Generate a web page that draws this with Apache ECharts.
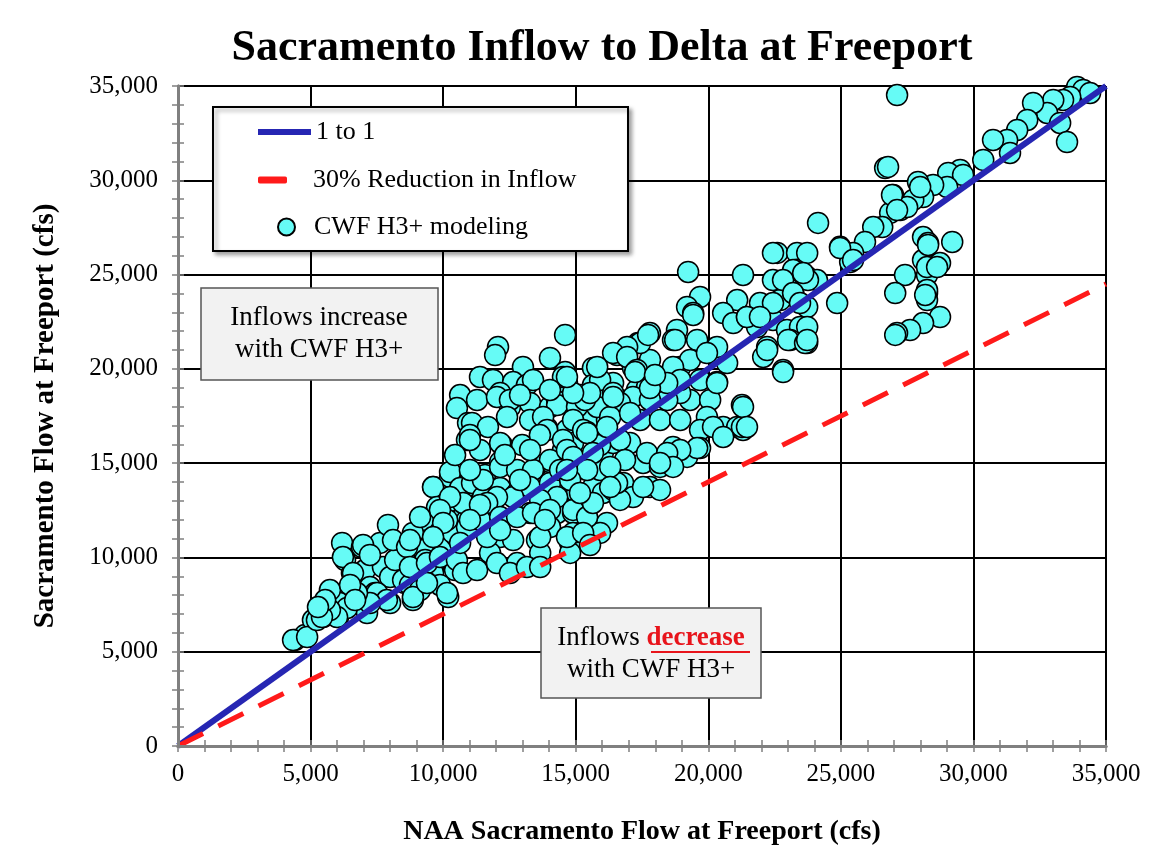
<!DOCTYPE html>
<html>
<head>
<meta charset="utf-8">
<title>Sacramento Inflow to Delta at Freeport</title>
<script src="https://cdn.jsdelivr.net/npm/echarts@6/dist/echarts.min.js"></script>
<style>
    html, body { margin: 0; padding: 0; background: #fff; }
    #chart { width: 1151px; height: 858px; }
</style>
</head>
<body>
<div id="chart"></div>
<script>
// reference lines (cfs)
const oneToOne = [[0, 0], [35000, 35000]];
const reduction30 = [[0, 0], [35000, 24500]];

// CWF H3+ modeling points: [NAA flow, H3+ flow] in cfs, grouped by area of the plot
const lowerLeftPts = [
    [4410,5620],[4790,5890],[5090,6680],[5470,6840],[5730,7050],[6040,6840],[6110,7580],[6380,7320],
    [6190,10770],[6300,9860],[6560,9170],[6940,10550],[7050,9330],[6790,8270],[7240,8430],[7430,8110],
    [7620,10770],[7730,9490],[8000,8960],[7920,11720],[8450,10660],[8830,10240],[8870,10920],[8680,9710],
    [8560,8640],[8000,7580],[8870,7900],[9390,11300],[9510,10390],[9130,9330],[9620,9170],[10000,11610],
    [10150,11830],[9770,12520],[9620,13740],[10260,14270],[10750,13580],[10450,9490],[10190,7900],
    [10520,12890],[10150,12890],[10000,10550],[10750,12140],[10520,11080],
    [10640,18610],[10520,17920],[10940,17130],[10900,16230],[4340,5620],[4870,5780],[5240,6680],
    [6000,6840],[7130,7050],[7510,8110],[8490,8800],[9240,10390],[10150,11610],[10450,9330],[9390,8640],
    [8860,7740],[7880,7740],[7240,7580],[6750,8110],[5730,7210],[5430,6840],[6980,10660],[6220,10020],[6600,9170],
    [5730,8270],[6490,8540],[8190,9860],[8750,8540],[7240,10130],[5550,7740],[6680,7740],[9130,8270],
    [9880,8540],[9320,9860],[5280,7370],[8110,10920]
];

const centerPts = [
    [14600,21800],[12070,21160],[11960,20730],[14030,20580],[13010,20100],[11390,19570],[11880,19410],
    [12640,19300],[13160,19140],[11280,18350],[12150,18720],[12520,17980],[13280,18190],[11090,17130],
    [11690,16920],[13280,17290],[14030,17980],[14300,18350],[14670,19250],[14600,19830],[15650,20050],
    [15650,19140],[15160,18610],[14900,17920],[16030,18880],[16410,19250],[16670,18350],[17310,18880],
    [17160,20050],[17350,21370],[16560,20730],[15540,17290],[16180,17290],[15430,16650],[14670,16760],
    [13920,16860],[11010,16490],[11390,15700],[12220,15960],[12980,15960],[12150,15060],[11580,14370],
    [10260,14530],[9620,13730],[10640,13680],[11090,13950],[11500,13200],[12150,13680],[12790,13420],
    [13540,14900],[14030,15060],[14520,15700],[14900,16070],[15430,15010],[16030,15590],[16410,16070],
    [17050,16070],[16300,14640],[16790,13950],[17160,13200],[17540,15010],[15650,13730],[15090,13420],
    [14300,13050],[13770,12670],[13280,12360],[14300,12360],[14900,12360],[15430,12670],[16030,13420],
    [16180,11830],[15430,11450],[14790,10770],[14790,10240],[14030,11610],[13540,10920],[13660,10240],
    [12790,9700],[12150,11080],[11500,11830],[11880,12520],[10900,11990],[10370,11300],[10150,11990],
    [9770,12670],[9240,11990],[8860,11300],[8640,10550],[8750,9490],[9390,9700],[9880,10020],[10520,9860],
    [10750,9170],[11280,9330],[11770,10240],[12030,9700],[12520,9170],[13160,9490],[13660,9490],
    [10150,8110],[8860,7900],[9390,8640],[14900,11300],[15920,11300],[16410,13580],[16670,13050]
];

const centerExtraPts = [
    [13390,19410],[14520,19570],[12030,18510],[12520,18350],[14300,18080],[15050,17980],[15810,17980],
    [12410,17450],[13770,17450],[13920,16760],[14900,17290],[15280,16760],[14520,16230],[11010,16230],
    [12150,16070],[14030,15170],[14670,15700],[14900,15330],[15430,14800],[12150,14800],[11500,14110],
    [12790,14640],[13390,14640],[13280,13730],[14030,13950],[15050,13420],[14300,13200],[13660,13050],
    [12640,13200],[12030,13200],[11660,12890],[10750,12890],[10260,13200],[9880,12520],[9130,12140],
    [10000,11830],[10900,11610],[11390,11990],[12150,12140],[12790,12140],[13390,12360],[14030,12520],
    [14900,12520],[15430,12140],[15650,12890],[8750,10920],[9620,11080],[10640,10770],[11660,11080],
    [12640,10920],[13660,11080],[14670,11080],[15280,11300],
    [11390,12780],[12900,14110],[13840,11990],[12330,15430],[10450,15430],[13650,16490],[15920,14640],
    [16670,16230],[15540,10660],[11010,14640],[12150,11450],[14410,14640],[13280,15700],[11010,11990],
    [16860,15170],[17430,17290],[15350,18350],[14030,18880],[12900,18610],[15920,15960],[18180,17290],
    [18940,17290],[19310,18350],[19690,19410],[17800,20470]
];

const upperMidPts = [
    [24140,27740],[24970,26470],[25460,25880],[22600,26150],[23350,26150],[23350,25250],[19240,25140],
    [21310,24980],[22440,24710],[22970,24340],[23730,24870],[24100,24710],[19690,23810],[21090,23650],
    [21950,23490],[22710,23650],[23200,24020],[23730,23280],[24860,23490],[19200,23280],[19430,22960],
    [20560,22960],[20940,22430],[21460,22750],[21840,22220],[22440,22590],[22970,22060],[23460,22220],
    [23730,21370],[23090,21530],[22220,21160],[22070,20630],[22820,19940],[20710,20310],[20260,21110],
    [20070,20840],[19580,21530],[18820,22060],[18670,21530],[17800,21900],[17430,21370],[16940,21160],
    [16410,20840],[16940,20630],[17310,19940],[18070,19570],[18940,20100],[19310,20470],[18560,19250],
    [18940,18720],[18450,18350],[17690,19040],[17160,18510],[16670,18190],[16300,17450],[17050,17660],
    [17800,18350],[15920,19410],[16410,18720],[20330,19300],[20070,18350],[19950,17450],[19690,16760],
    [19690,15800],[19200,15330],[18560,15330],[18180,14800],[17690,15540],[18670,15860],[20560,16920],
    [21090,16920],[21310,16760],[21270,18080],[16560,13950],[17800,13730],[18180,13580]
];

const upperMidExtraPts = [
    [22440,26140],[19430,22860],[18750,21530],[17730,21800],[20330,21160],[19950,20840],[20330,19250],
    [20180,16920],[21270,16920],[20560,16390],[19580,15800],[18940,15700],[18450,15540],[18670,14800],
    [18180,15010],[17540,13730],[18670,20100],[18940,19410],[18450,19250],[17800,18980],[16410,18510],
    [15540,18720],[14900,18720],[14670,19570],[16180,16920],[15430,16600],[15650,15540],[16300,14800],
    [15430,14640],[14790,14110],[16300,13730],[15160,13420],[14670,14640],[15810,20100],[17240,19830],
    [17990,19670],[21310,17980],[21460,16920],[22820,19830],[23200,25240],[23760,24710],[22820,24710],
    [23200,24020],[22440,23490],[23010,21530],[23650,21370],[22220,21000],[21460,22750],[21950,22750]
];

const upperRightPts = [
    [27120,34520],[33910,34950],[34140,34790],[34400,34630],[33650,34420],[33380,34260],[33010,34260],
    [32780,33570],[33270,33040],[33530,32030],[32250,34100],[32030,33200],[31650,32670],[31270,32140],
    [31380,31450],[30740,32140],[30370,31080],[29500,30550],[29050,30390],[29610,30280],[26670,30650],
    [26780,30710],[29010,29640],[28480,29750],[27910,29910],[28100,29110],[27730,28960],[26970,29220],
    [26860,28270],[27240,28420],[27500,28580],[26560,27520],[26220,27520],[25910,26730],[25460,26150],
    [25350,25670],[24970,26410],[28100,26990],[28290,26670],[29200,26730],[28100,25770],[28560,25510],
    [28740,25610],[27420,24980],[28250,24980],[28250,24020],[27050,24020],[28250,23650],[28740,22750],
    [28100,22430],[27610,22060],[27120,21900],[23460,23490],[23730,22220],[23730,21530],[23730,26150],
    [23580,25080],[25460,25770],[26930,29220],[27990,29640],[27120,28420],[28290,26570],[28250,25400],
    [28630,25400],[28250,24180],[28180,23920],[27050,21800]
];

const modelPts = [].concat(lowerLeftPts, centerPts, centerExtraPts, upperMidPts, upperMidExtraPts, upperRightPts);

const serif = "'Liberation Serif', 'Times New Roman', serif";
const gray = '#808080';
const fmt = v => v.toLocaleString('en-US');
const plotBox = { left: 178, right: 45, top: 86, bottom: 112 };

function baseAxis(extra) {
    return Object.assign({
        type: 'value',
        gridIndex: 0,
        min: 0,
        max: 35000,
        interval: 5000,
        axisLine: { show: true, lineStyle: { color: gray, width: 3 } },
        axisTick: { show: true, length: 6, lineStyle: { color: gray, width: 1.5 } },
        minorTick: { show: true, splitNumber: 5, length: 6, lineStyle: { color: gray, width: 1.5 } },
        splitLine: { show: true, lineStyle: { color: '#000', width: 2 } },
        axisLabel: { color: '#000', fontFamily: serif, fontSize: 25, formatter: fmt }
    }, extra);
}

// copy of the axes in a twin grid, only for the inward half of the crossing ticks
function tickOverlay(pos) {
    return {
        type: 'value', gridIndex: 1, min: 0, max: 35000, interval: 5000, position: pos, z: 4,
        axisLine: { show: true, onZero: false, lineStyle: { color: gray, width: 3 } },
        axisTick: { show: true, inside: true, length: 6, lineStyle: { color: gray, width: 1.5 } },
        minorTick: { show: true, splitNumber: 5, length: 6, lineStyle: { color: gray, width: 1.5 } },
        splitLine: { show: false },
        axisLabel: { show: false }
    };
}

let chart = echarts.init(document.getElementById('chart'));

let option = {
    animation: false,
    backgroundColor: '#fff',
    title: {
        text: 'Sacramento Inflow to Delta at Freeport',
        left: 597,
        textAlign: 'center',
        top: 22,
        textStyle: { fontFamily: serif, fontWeight: 'bold', fontSize: 44, color: '#000' }
    },
    grid: [
        Object.assign({}, plotBox),
        Object.assign({}, plotBox)
    ],
    xAxis: [
        baseAxis({
            position: 'bottom',
            name: 'NAA Sacramento Flow at Freeport (cfs)',
            nameLocation: 'middle',
            nameGap: 72,
            nameTextStyle: { fontFamily: serif, fontWeight: 'bold', fontSize: 28, color: '#000' },
            axisLabel: { color: '#000', fontFamily: serif, fontSize: 25, margin: 16, formatter: fmt }
        }),
        tickOverlay('bottom')
    ],
    yAxis: [
        baseAxis({
            position: 'left',
            name: 'Sacramento Flow at Freeport (cfs)',
            nameLocation: 'middle',
            nameRotate: 90,
            nameGap: 118,
            nameTextStyle: { fontFamily: serif, fontWeight: 'bold', fontSize: 29, color: '#000' },
            axisLabel: { color: '#000', fontFamily: serif, fontSize: 25, margin: 20, formatter: fmt }
        }),
        tickOverlay('left')
    ],
    legend: [
        {
            data: ['1 to 1'], left: 258, top: 119, padding: 0, z: 10, selectedMode: false,
            icon: 'rect', itemWidth: 53, itemHeight: 6,
            textStyle: { fontFamily: serif, fontSize: 26, color: '#000' }
        },
        {
            data: ['30% Reduction in Inflow'], left: 258, top: 167, padding: 0, z: 10, selectedMode: false,
            icon: 'roundRect', itemWidth: 29, itemHeight: 7,
            textStyle: { fontFamily: serif, fontSize: 26, color: '#000', padding: [0, 0, 0, 21] }
        },
        {
            data: ['CWF H3+ modeling'], left: 277, top: 214, padding: 0, z: 10, selectedMode: false,
            icon: 'circle', itemWidth: 17, itemHeight: 17,
            textStyle: { fontFamily: serif, fontSize: 26, color: '#000', padding: [0, 0, 0, 14] }
        }
    ],
    graphic: [
        {
            type: 'rect', z: 5, silent: true,
            shape: { x: 213, y: 107, width: 415, height: 144 },
            style: { fill: '#fff', stroke: '#000', lineWidth: 2,
                shadowBlur: 4, shadowOffsetX: 3, shadowOffsetY: 3, shadowColor: 'rgba(0,0,0,0.35)' }
        },
        {
            type: 'rect', z: 5, silent: true,
            shape: { x: 201, y: 288, width: 237, height: 92 },
            style: { fill: '#f2f2f2', stroke: '#555', lineWidth: 1.5 }
        },
        {
            type: 'text', z: 6, silent: true, x: 319, y: 334,
            style: { text: 'Inflows increase\nwith CWF H3+', fontFamily: serif, fontSize: 27, lineHeight: 32,
                fill: '#000', align: 'center', verticalAlign: 'middle' }
        },
        {
            type: 'rect', z: 5, silent: true,
            shape: { x: 541, y: 608, width: 220, height: 90 },
            style: { fill: '#f2f2f2', stroke: '#555', lineWidth: 1.5 }
        },
        {
            type: 'text', z: 6, silent: true, x: 651, y: 654,
            style: {
                text: 'Inflows {d|decrease}\nwith CWF H3+', fontFamily: serif, fontSize: 27, lineHeight: 32,
                fill: '#000', align: 'center', verticalAlign: 'middle',
                rich: { d: { fontFamily: serif, fontSize: 27, fontWeight: 'bold', fill: '#e8141b' } }
            }
        },
        {
            type: 'line', z: 6, silent: true,
            shape: { x1: 651, y1: 652, x2: 750, y2: 652 },
            style: { stroke: '#e8141b', lineWidth: 2 }
        }
    ],
    series: [
        {
            name: 'CWF H3+ modeling',
            type: 'scatter',
            xAxisIndex: 0,
            yAxisIndex: 0,
            data: modelPts,
            symbolSize: 21,
            z: 2,
            itemStyle: { color: '#66fbf6', borderColor: '#000', borderWidth: 1.5, opacity: 1 }
        },
        {
            name: '1 to 1',
            type: 'line',
            xAxisIndex: 0,
            yAxisIndex: 0,
            data: oneToOne,
            symbol: 'none',
            z: 3,
            itemStyle: { color: '#2626b3' },
            lineStyle: { color: '#2626b3', width: 6 }
        },
        {
            name: '30% Reduction in Inflow',
            type: 'line',
            xAxisIndex: 0,
            yAxisIndex: 0,
            data: reduction30,
            symbol: 'none',
            z: 3,
            itemStyle: { color: '#ff1a1a' },
            lineStyle: { color: '#ff1a1a', width: 5, type: [28, 17] }
        }
    ]
};

chart.setOption(option);
</script>
</body>
</html>
